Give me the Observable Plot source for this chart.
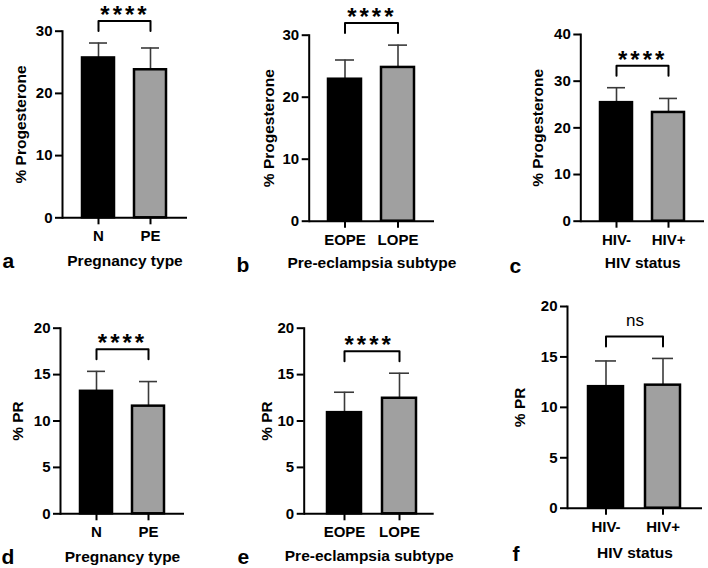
<!DOCTYPE html>
<html>
<head>
<meta charset="utf-8">
<script src="https://cdn.jsdelivr.net/npm/d3@7"></script>
<script src="https://cdn.jsdelivr.net/npm/@observablehq/plot@0.6"></script>
<style>
  body { margin: 0; background: #fff; }
  #fig { position: relative; width: 708px; height: 568px; overflow: hidden; background: #fff; }
  #fig > div { position: absolute; }
  #fig svg { overflow: visible; }
</style>
</head>
<body>
<div id="fig"></div>
<script>
// Group names
const pregnancyGroups = ["N", "PE"];
const subtypeGroups = ["EOPE", "LOPE"];
const hivGroups = ["HIV-", "HIV+"];

// Mean and SD (% Progesterone)
const progPregnancyMean = [25.7, 23.8];
const progPregnancySd = [2.4, 3.5];
const progSubtypeMean = [22.9, 24.8];
const progSubtypeSd = [3.1, 3.6];
const progHivMean = [25.4, 23.3];
const progHivSd = [3.2, 3.0];

// Mean and SD (% PR)
const prPregnancyMean = [13.2, 11.6];
const prPregnancySd = [2.15, 2.65];
const prSubtypeMean = [10.9, 12.45];
const prSubtypeSd = [2.2, 2.7];
const prHivMean = [12.05, 12.2];
const prHivSd = [2.55, 2.65];

// Significance of each comparison
const significance = ["****", "****", "****", "****", "****", "ns"];

// Axis ticks
const progTicks = [0, 10, 20, 30];
const progHivTicks = [0, 10, 20, 30, 40];
const prTicks = [0, 5, 10, 15, 20];

// Text
const yTitles = ["% Progesterone", "% Progesterone", "% Progesterone", "% PR", "% PR", "% PR"];
const xTitles = ["Pregnancy type", "Pre-eclampsia subtype", "HIV status", "Pregnancy type", "Pre-eclampsia subtype", "HIV status"];
const panelLetters = ["a", "b", "c", "d", "e", "f"];

const barColors = ["#000000", "#a0a0a0"];
const FONT = "'Liberation Sans', Arial, sans-serif";

// Panel layout: box on the page, then the axis corner positions in page pixels
const layouts = [
  {box: [0, 0, 236, 284],     axL: 62,    axR: 187, yTop: 30.7,  yBot: 217.3, yTitleOff: 41,   xTitleOff: 43, letter: [2, 267],   align: 0.5},
  {box: [236, 0, 236, 284],   axL: 308.7, axR: 434, yTop: 34.7,  yBot: 220.7, yTitleOff: 40,   xTitleOff: 42, letter: [236, 271], align: 0.5},
  {box: [472, 0, 236, 284],   axL: 580.3, axR: 704, yTop: 34,    yBot: 220.7, yTitleOff: 42.5, xTitleOff: 42, letter: [509, 272], align: 0.5},
  {box: [0, 284, 236, 284],   axL: 60,    axR: 184, yTop: 327.7, yBot: 513.3, yTitleOff: 42.5, xTitleOff: 43, letter: [1, 563],   align: 0.5},
  {box: [236, 284, 236, 284], axL: 303.7, axR: 433.7, yTop: 327.7, yBot: 513.3, yTitleOff: 37, xTitleOff: 42, letter: [237, 563], align: 0.56},
  {box: [472, 284, 236, 284], axL: 567,   axR: 702, yTop: 306,   yBot: 507.7, yTitleOff: 47.5, xTitleOff: 45, letter: [512, 560], align: 0.5}
];

const panelData = [
  {groups: pregnancyGroups, mean: progPregnancyMean, sd: progPregnancySd, ticks: progTicks},
  {groups: subtypeGroups,   mean: progSubtypeMean,   sd: progSubtypeSd,   ticks: progTicks},
  {groups: hivGroups,       mean: progHivMean,       sd: progHivSd,       ticks: progHivTicks},
  {groups: pregnancyGroups, mean: prPregnancyMean,   sd: prPregnancySd,   ticks: prTicks},
  {groups: subtypeGroups,   mean: prSubtypeMean,     sd: prSubtypeSd,     ticks: prTicks},
  {groups: hivGroups,       mean: prHivMean,         sd: prHivSd,         ticks: prTicks}
];

const fig = document.getElementById("fig");

panelData.forEach((p, k) => {
  const L = layouts[k];
  const [bx, by, bw, bh] = L.box;
  const marginLeft = L.axL - bx;
  const marginRight = bx + bw - L.axR;
  const marginTop = L.yTop - by;
  const marginBottom = by + bh - L.yBot;
  const yMax = p.ticks[p.ticks.length - 1];

  const rows = p.groups.map((g, i) => ({group: g, mean: p.mean[i], top: p.mean[i] + p.sd[i]}));

  // Bracket sits a fixed pixel distance above the highest error cap
  const unitsPerPx = yMax / (L.yBot - L.yTop);
  const peak = d3.max(rows, d => d.top);
  const low = peak + 12 * unitsPerPx;
  const high = peak + 22 * unitsPerPx;
  const bracket = [
    {group: p.groups[0], y: low}, {group: p.groups[0], y: high},
    {group: p.groups[1], y: high}, {group: p.groups[1], y: low}
  ];
  const sig = significance[k];
  const isStars = sig.startsWith("*");

  const chart = Plot.plot({
    width: bw,
    height: bh,
    marginLeft, marginRight, marginTop, marginBottom,
    style: {fontFamily: FONT, fontWeight: "bold", fontSize: "15px", overflow: "visible", background: "transparent", color: "#000"},
    x: {type: "band", domain: p.groups, paddingInner: 0.38, paddingOuter: 0.37, align: L.align, axis: null},
    y: {domain: [0, yMax], axis: null},
    color: {domain: p.groups, range: barColors},
    marks: [
      // error bars (upper only)
      Plot.ruleX(rows, {x: "group", y1: "mean", y2: "top", stroke: "#3a3a3a", strokeWidth: 1.6}),
      Plot.tickY(rows, {x: "group", y: "top", stroke: "#3a3a3a", strokeWidth: 1.6, insetLeft: 7, insetRight: 7}),
      Plot.barY(rows, {x: "group", y: "mean", fill: "group", stroke: "#000", strokeWidth: 2.5}),
      // axes
      Plot.ruleY([0], {stroke: "#000", strokeWidth: 2}),
      Plot.frame({anchor: "left", stroke: "#000", strokeWidth: 2}),
      Plot.axisY({ticks: p.ticks, tickSize: 7, tickPadding: 3, label: null, strokeWidth: 2, fontSize: 15, fontWeight: "bold"}),
      Plot.axisX({tickSize: 7, tickPadding: 6, label: null, strokeWidth: 2, fontSize: 15, fontWeight: "bold"}),
      // significance bracket
      Plot.line(bracket, {x: "group", y: "y", stroke: "#000", strokeWidth: 2}),
      Plot.text([{y: high, label: sig}], {
        y: "y", text: "label", lineAnchor: "bottom",
        dy: isStars ? 2 : -10,
        fontSize: isStars ? 24 : 17, fontWeight: isStars ? "bold" : "normal"
      }),
      // titles
      Plot.text([yTitles[k]], {frameAnchor: "left", rotate: -90, dx: -L.yTitleOff, textAnchor: "middle", lineAnchor: "middle", fontSize: 15.5, fontWeight: "bold"}),
      Plot.text([xTitles[k]], {frameAnchor: "bottom", dy: L.xTitleOff, textAnchor: "middle", lineAnchor: "middle", fontSize: 15.5, fontWeight: "bold"}),
      Plot.text([panelLetters[k]], {frameAnchor: "top-left", dx: L.letter[0] - L.axL, dy: L.letter[1] - L.yTop, textAnchor: "start", lineAnchor: "bottom", fontSize: 21, fontWeight: "bold"})
    ]
  });

  // spread the asterisks apart
  d3.select(chart).selectAll("text").filter(function () { return this.textContent === "****"; })
    .attr("letter-spacing", "3px");

  const holder = document.createElement("div");
  holder.style.left = bx + "px";
  holder.style.top = by + "px";
  holder.style.width = bw + "px";
  holder.style.height = bh + "px";
  holder.appendChild(chart);
  fig.appendChild(holder);
});
</script>
</body>
</html>
